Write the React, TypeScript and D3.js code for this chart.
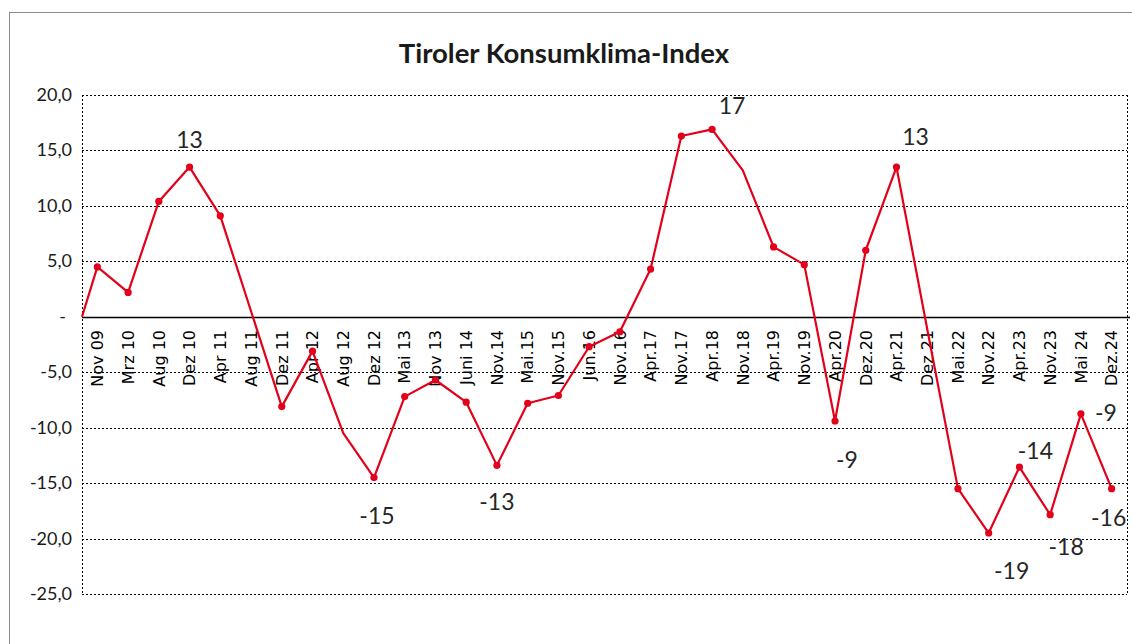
import React from "react";
import * as d3 from "d3";

const categories = [
  "Nov 09", "Mrz 10", "Aug 10", "Dez 10", "Apr 11", "Aug 11", "Dez 11", "Apr 12",
  "Aug 12", "Dez 12", "Mai 13", "Nov 13", "Juni 14", "Nov.14", "Mai.15", "Nov.15",
  "Jun.16", "Nov.16", "Apr.17", "Nov.17", "Apr.18", "Nov.18", "Apr.19", "Nov.19",
  "Apr.20", "Dez.20", "Apr.21", "Dez.21", "Mai.22", "Nov.22", "Apr.23", "Nov.23",
  "Mai 24", "Dez.24",
];

const values = [
  4.5, 2.2, 10.4, 13.5, 9.1, 0.5, -8.1, -3.1,
  -10.5, -14.5, -7.2, -5.7, -7.7, -13.4, -7.8, -7.1,
  -2.7, -1.35, 4.3, 16.3, 16.9, 13.2, 6.3, 4.7,
  -9.4, 6.0, 13.5, -1.1, -15.5, -19.5, -13.55, -17.85,
  -8.75, -15.5,
];

// categories whose point is drawn without a marker
const unmarked = ["Aug 11", "Aug 12", "Nov.18", "Dez.21"];

// value at the left edge of the plot where the line starts
const leadInValue = 0;

const yTicks = [20, 15, 10, 5, 0, -5, -10, -15, -20, -25];

const labelCats = ["Dez 10", "Dez 12", "Nov.14", "Apr.18", "Apr.20", "Apr.21", "Nov.22", "Apr.23", "Nov.23", "Mai 24", "Dez.24"];
const labelTexts = ["13", "-15", "-13", "17", "-9", "13", "-19", "-14", "-18", "-9", "-16"];

// placement offsets of the data labels (style, not data)
const labelOffsets: [number, number][] = [
  [0, -27], [3, 38], [0, 37], [20, -23], [12, 39], [19, -30],
  [23, 38], [16, -16], [16, 32], [25, -1], [-3, 29],
];

const W = 1132;
const H = 644;
const plot = { left: 82, right: 1127, top: 95, bottom: 594 };
const RED = "#e2001a";

export default function App() {
  const x = d3.scaleBand<string>().domain(categories).range([plot.left, plot.right]);
  const y = d3.scaleLinear().domain([-25, 20]).range([plot.bottom, plot.top]);
  const cx = (c: string) => (x(c) ?? 0) + x.bandwidth() / 2;

  const pts: [number, number][] = [
    [plot.left, y(leadInValue)],
    ...categories.map((c, i) => [cx(c), y(values[i])] as [number, number]),
  ];
  const linePath = d3.line()(pts) ?? "";
  const fmt = (v: number) => (v === 0 ? "-" : d3.format(".1f")(v).replace(".", ",").replace("−", "-"));

  return (
    <div style={{ position: "absolute", left: 0, top: 0 }}>
      <svg width={W} height={H} style={{ display: "block", background: "#fff" }}>
        <rect x={9.5} y={12.5} width={1140} height={660} fill="#fff" stroke="#8c8c8c" strokeWidth={1} />
        <text x={564} y={63} textAnchor="middle" fontFamily="Lato" fontWeight="bold" fontSize={27.5} fill="#1a1a1a">
          Tiroler Konsumklima-Index
        </text>
        {/* gridlines */}
        {yTicks.filter((t) => t !== 0).map((t) => (
          <line key={"g" + t} x1={plot.left} x2={plot.right} y1={Math.round(y(t)) + 0.5} y2={Math.round(y(t)) + 0.5}
            stroke="#000" strokeWidth={1} strokeDasharray="2,2" />
        ))}
        <line x1={plot.left + 0.5} x2={plot.left + 0.5} y1={plot.top} y2={plot.bottom} stroke="#000" strokeDasharray="2,2" />
        <line x1={plot.right + 0.5} x2={plot.right + 0.5} y1={plot.top} y2={plot.bottom} stroke="#000" strokeDasharray="2,2" />
        {/* y tick labels */}
        {yTicks.map((t) => (
          <text key={"t" + t} x={t === 0 ? 66 : 72} y={y(t) + 6} textAnchor="end" fontFamily="Lato" fontSize={18} fill="#1a1a1a">
            {fmt(t)}
          </text>
        ))}
        {/* zero axis */}
        <line x1={plot.left} x2={plot.right + 3} y1={Math.round(y(0)) + 0.5} y2={Math.round(y(0)) + 0.5} stroke="#000" strokeWidth={1.5} />
        {/* x labels */}
        {categories.map((c) => (
          <text key={"x" + c} transform={`translate(${cx(c)},330) rotate(-90)`} textAnchor="end" dy="0.36em"
            fontFamily="DejaVu Sans" fontSize={16} fill="#000">
            {c}
          </text>
        ))}
        {/* line */}
        <path d={linePath} fill="none" stroke={RED} strokeWidth={2.2} strokeLinejoin="round" />
        {categories.map((c, i) =>
          unmarked.includes(c) ? null : (
            <circle key={"m" + c} cx={cx(c)} cy={y(values[i])} r={3.6} fill={RED} />
          )
        )}
        {/* data labels */}
        {labelCats.map((c, i) => {
          const idx = categories.indexOf(c);
          const [dx, dy] = labelOffsets[i];
          return (
            <text key={"l" + i} x={cx(c) + dx} y={y(values[idx]) + dy + 8} textAnchor="middle"
              fontFamily="Lato" fontSize={23} fill="#262626">
              {labelTexts[i]}
            </text>
          );
        })}
      </svg>
    </div>
  );
}
